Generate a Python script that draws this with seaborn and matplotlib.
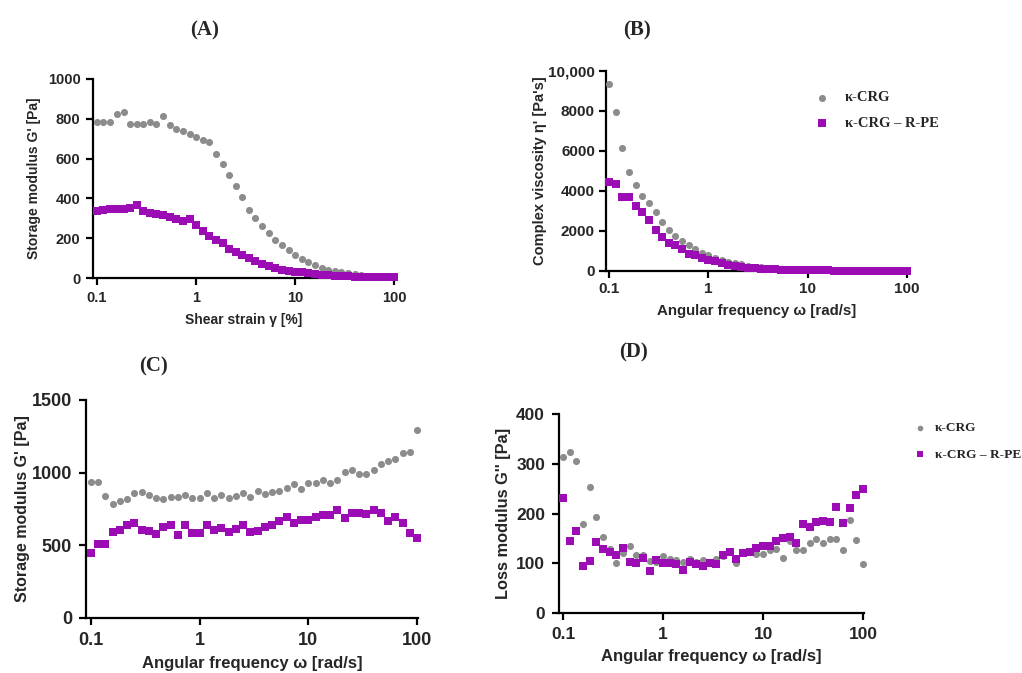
import matplotlib
matplotlib.use("Agg")
import matplotlib.pyplot as plt
import matplotlib.ticker as mticker
import numpy as np
import pandas as pd
import seaborn as sns

# ---------------- data ----------------
strain = [0.1, 0.116, 0.136, 0.158, 0.185, 0.215, 0.251, 0.293, 0.341, 0.398,
          0.464, 0.541, 0.631, 0.736, 0.858, 1.0, 1.17, 1.36, 1.58, 1.85,
          2.15, 2.51, 2.93, 3.41, 3.98, 4.64, 5.41, 6.31, 7.36, 8.58,
          10.0, 11.7, 13.6, 15.8, 18.5, 21.5, 25.1, 29.3, 34.1, 39.8,
          46.4, 54.1, 63.1, 73.6, 85.8, 100.0]
freq = [0.1, 0.116, 0.136, 0.158, 0.185, 0.215, 0.251, 0.293, 0.341, 0.398,
        0.464, 0.541, 0.631, 0.736, 0.858, 1.0, 1.17, 1.36, 1.58, 1.85,
        2.15, 2.51, 2.93, 3.41, 3.98, 4.64, 5.41, 6.31, 7.36, 8.58,
        10.0, 11.7, 13.6, 15.8, 18.5, 21.5, 25.1, 29.3, 34.1, 39.8,
        46.4, 54.1, 63.1, 73.6, 85.8, 100.0]

series_names = ["κ-CRG", "κ-CRG – R-PE"]

# (A) storage modulus vs shear strain
a_crg = [784, 784, 784, 824, 832, 774, 774, 774, 784, 774,
         816, 767, 750, 740, 725, 709, 695, 683, 625, 573,
         516, 464, 407, 343, 302, 263, 226, 193, 166, 139,
         114, 95, 79, 64, 52, 42, 34, 28, 23, 18,
         15, 12, 10, 8, 7, 7]
a_rpe = [338, 342, 345, 347, 345, 352, 365, 335, 327, 322,
         315, 305, 296, 288, 298, 265, 235, 209, 193, 176,
         146, 129, 114, 100, 84, 72, 59, 50, 42, 37,
         32, 28, 23, 20, 17, 13, 12, 10, 8, 7,
         5, 5, 3, 3, 3, 3]

# (B) complex viscosity vs angular frequency
b_crg = [9350, 7950, 6130, 4930, 4320, 3740, 3380, 2950, 2460, 2070,
         1740, 1500, 1290, 1090, 920, 790, 670, 570, 470, 390,
         335, 270, 220, 185, 150, 135, 110, 95, 80, 70,
         62, 55, 48, 42, 37, 33, 30, 27, 24, 21,
         19, 17, 15, 14, 13, 12]
b_rpe = [4457, 4374, 3706, 3706, 3255, 2955, 2571, 2037, 1703, 1419,
         1285, 1085, 868, 818, 668, 534, 484, 384, 317, 250,
         200, 167, 140, 115, 95, 80, 68, 58, 50, 44,
         38, 34, 30, 27, 25, 23, 21, 19, 17, 15,
         14, 13, 12, 11, 10, 9]

# (C) storage modulus vs angular frequency
c_crg = [939, 934, 840, 781, 808, 818, 859, 870, 843, 829,
         820, 831, 831, 843, 829, 824, 859, 829, 847, 827,
         840, 863, 836, 875, 854, 866, 875, 895, 923, 888,
         927, 927, 950, 927, 950, 1005, 1019, 989, 989, 1019,
         1058, 1081, 1092, 1133, 1140, 1291]
c_rpe = [447, 511, 508, 591, 607, 641, 653, 607, 598, 579,
         625, 637, 572, 641, 588, 588, 637, 607, 618, 595,
         614, 637, 593, 598, 625, 641, 664, 694, 653, 676,
         671, 694, 712, 708, 740, 687, 721, 721, 717, 740,
         721, 664, 696, 653, 588, 552]

# (D) loss modulus vs angular frequency
d_crg = [314, 324, 306, 179, 253, 192, 152, 128, 100, 121,
         135, 116, 116, 104, 102, 114, 108, 106, 102, 108,
         103, 106, 103, 108, 114, 124, 101, 122, 122, 119,
         118, 126, 128, 110, 144, 126, 126, 140, 149, 140,
         148, 148, 126, 187, 146, 99]
d_rpe = [232, 144, 164, 94, 105, 142, 128, 122, 116, 130,
         102, 100, 110, 85, 106, 100, 100, 98, 86, 102,
         98, 95, 101, 99, 116, 122, 108, 120, 122, 130,
         135, 134, 144, 150, 152, 140, 178, 172, 183, 185,
         183, 213, 180, 212, 237, 250]

x_ticks = [0.1, 1, 10, 100]
x_ticklabels = ["0.1", "1", "10", "100"]
a_yticks = [0, 200, 400, 600, 800, 1000]
b_yticks = [0, 2000, 4000, 6000, 8000, 10000]
b_yticklabels = ["0", "2000", "4000", "6000", "8000", "10,000"]
c_yticks = [0, 500, 1000, 1500]
d_yticks = [0, 100, 200, 300, 400]

# ---------------- style ----------------
sns.set_theme(style="ticks")
plt.rcParams["font.family"] = ["Liberation Sans", "DejaVu Sans"]
plt.rcParams["font.weight"] = "bold"

GRAY = "#8c8c8c"
PURPLE = "#9c0cb4"
SERIF = ["Liberation Serif", "DejaVu Serif"]

fig = plt.figure(figsize=(10.22, 6.73), dpi=100)
W, H = 1022, 673


def axes_px(left, top, right, bottom):
    return fig.add_axes([left / W, 1 - bottom / H, (right - left) / W, (bottom - top) / H])


def draw(ax, x, y1, y2, xlim, ylim, yticks, yticklabels, xlabel, ylabel,
         fs_tick, fs_xlab, fs_ylab, pad=4, labelpad=6, ylabelpad=5):
    df1 = pd.DataFrame({"x": x, "y": y1})
    df2 = pd.DataFrame({"x": x, "y": y2})
    sns.scatterplot(data=df1, x="x", y="y", ax=ax, color=GRAY, marker="o", s=26,
                    linewidth=0, clip_on=False, label=series_names[0], zorder=3)
    sns.scatterplot(data=df2, x="x", y="y", ax=ax, color=PURPLE, marker="s", s=30,
                    linewidth=0, clip_on=False, label=series_names[1], zorder=3)
    ax.set_xscale("log")
    ax.set_xlim(*xlim)
    ax.set_ylim(*ylim)
    ax.set_xticks(x_ticks)
    ax.set_xticklabels(x_ticklabels)
    ax.xaxis.set_minor_locator(mticker.NullLocator())
    ax.set_yticks(yticks)
    ax.set_yticklabels(yticklabels if yticklabels is not None else [str(v) for v in yticks])
    for sp in ["top", "right"]:
        ax.spines[sp].set_visible(False)
    for sp in ["left", "bottom"]:
        ax.spines[sp].set_linewidth(1.6)
        ax.spines[sp].set_color("black")
    ax.tick_params(axis="both", which="major", direction="out", length=5, width=1.6,
                   color="black", labelsize=fs_tick, pad=pad)
    for lab in ax.get_xticklabels() + ax.get_yticklabels():
        lab.set_fontweight("bold")
    ax.set_xlabel(xlabel, fontsize=fs_xlab, fontweight="bold", labelpad=labelpad)
    ax.set_ylabel(ylabel, fontsize=fs_ylab, fontweight="bold", labelpad=ylabelpad)
    ax.set_facecolor("white")
    if ax.get_legend() is not None:
        ax.get_legend().remove()


axA = axes_px(93, 79, 395, 278)
draw(axA, strain, a_crg, a_rpe, (0.091, 102), (0, 1000), a_yticks, None,
     "Shear strain γ [%]", "Storage modulus G' [Pa]", 10.5, 10, 10)

axB = axes_px(606, 71, 908, 271)
draw(axB, freq, b_crg, b_rpe, (0.093, 102), (0, 10000), b_yticks, b_yticklabels,
     "Angular frequency ω [rad/s]", "Complex viscosity η' [Pa's]", 11, 10.8, 10.5,
     pad=3, ylabelpad=1)

axC = axes_px(86, 400, 418, 618)
draw(axC, freq, c_crg, c_rpe, (0.09, 102), (0, 1500), c_yticks, None,
     "Angular frequency ω [rad/s]", "Storage modulus G' [Pa]", 13, 12, 11.5,
     pad=5, labelpad=5, ylabelpad=1)

axD = axes_px(559, 414, 864, 613)
draw(axD, freq, d_crg, d_rpe, (0.091, 102), (0, 400), d_yticks, None,
     "Angular frequency ω [rad/s]", "Loss modulus G'' [Pa]", 12.5, 12, 11.8,
     pad=5, labelpad=5, ylabelpad=4)

# legends
handles, labels = axB.get_legend_handles_labels()
fig.legend(handles, labels, loc="upper left", bbox_to_anchor=(794 / W, 1 - 78 / H),
           frameon=False, prop={"family": SERIF, "weight": "bold", "size": 10.5},
           handletextpad=0.6, labelspacing=0.85, markerscale=1.0)
handles, labels = axD.get_legend_handles_labels()
fig.legend(handles, labels, loc="upper left", bbox_to_anchor=(895 / W, 1 - 410 / H),
           frameon=False, prop={"family": SERIF, "weight": "bold", "size": 9.6},
           handletextpad=0.1, labelspacing=1.05, markerscale=0.8)

# panel letters
for txt, px, py in [("(A)", 205, 30), ("(B)", 637, 30), ("(C)", 154, 366), ("(D)", 633, 352)]:
    fig.text(px / W, 1 - py / H, txt, ha="center", va="center",
             fontsize=15, fontweight="bold", family=SERIF)

fig.savefig("out.png", dpi=100, facecolor="white")
